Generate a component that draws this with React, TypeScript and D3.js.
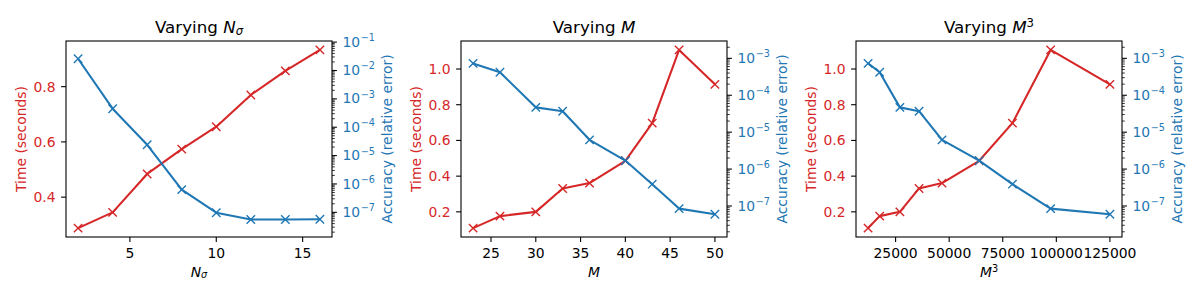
import type { ReactNode } from "react";
import * as d3 from "d3";

// Varying N_sigma
const nSigma = [2, 4, 6, 8, 10, 12, 14, 16];
const timeNSigma = [0.288, 0.345, 0.484, 0.574, 0.655, 0.77, 0.857, 0.933];
const accNSigma = [2.6e-2, 4.5e-4, 2.4e-5, 6.3e-7, 9.7e-8, 5.6e-8, 5.6e-8, 5.7e-8];

// Varying M (and M^3, same runs)
const mValues = [23, 26, 30, 33, 36, 40, 43, 46, 50];
const m3Values = [12167, 17576, 27000, 35937, 46656, 64000, 79507, 97336, 125000];
const timeM = [0.109, 0.176, 0.2, 0.331, 0.361, 0.486, 0.697, 1.107, 0.914];
const accM = [7.3e-4, 4.2e-4, 4.7e-5, 3.7e-5, 6.2e-6, 1.7e-6, 3.9e-7, 8.5e-8, 6.0e-8];

const xTicksN = [5, 10, 15];
const xTicksM = [25, 30, 35, 40, 45, 50];
const xTicksM3 = [25000, 50000, 75000, 100000, 125000];
const yTicksN = [0.4, 0.6, 0.8];
const yTicksM = [0.2, 0.4, 0.6, 0.8, 1.0];

// right-axis limits, as log10 exponents
const accLimN: [number, number] = [-7.87, -0.96];
const accLimM: [number, number] = [-7.84, -2.53];

const RED = "#d62728";
const BLUE = "#1f77b4";
const FONT = "DejaVu Sans, sans-serif";
const TOP = 41;
const BOTTOM = 237;
const WIDTH = 266;

// matplotlib's default 5% data margin
function padded(vals: number[]): [number, number] {
  const [a, b] = d3.extent(vals) as [number, number];
  const m = (b - a) * 0.05;
  return [a - m, b + m];
}

const cross = "M-4.2,-4.2L4.2,4.2M-4.2,4.2L4.2,-4.2";

function Panel({
  left,
  title,
  xlabel,
  xs,
  time,
  acc,
  xTicks,
  yTicks,
  accLim,
}: {
  left: number;
  title: ReactNode;
  xlabel: ReactNode;
  xs: number[];
  time: number[];
  acc: number[];
  xTicks: number[];
  yTicks: number[];
  accLim: [number, number];
}) {
  const right = left + WIDTH;
  const x = d3.scaleLinear().domain(padded(xs)).range([left, right]);
  const yL = d3.scaleLinear().domain(padded(time)).range([BOTTOM, TOP]);
  const yR = d3
    .scaleLog()
    .domain([10 ** accLim[0], 10 ** accLim[1]])
    .range([BOTTOM, TOP]);

  const lineL = d3
    .line<number>()
    .x((_, i) => x(xs[i]))
    .y((d) => yL(d));
  const lineR = d3
    .line<number>()
    .x((_, i) => x(xs[i]))
    .y((d) => yR(d));

  const logTicks = yR.ticks();
  const isMajor = (t: number) => Math.abs(Math.log10(t) - Math.round(Math.log10(t))) < 1e-9;

  return (
    <g fontFamily={FONT}>
      {/* title */}
      <text x={(left + right) / 2} y={32.5} textAnchor="middle" fontSize={16.7}>
        {title}
      </text>

      {/* red: time */}
      <path d={lineL(time) ?? ""} fill="none" stroke={RED} strokeWidth={2.08} strokeLinejoin="round" />
      {time.map((d, i) => (
        <path key={i} d={cross} transform={`translate(${x(xs[i])},${yL(d)})`} stroke={RED} strokeWidth={1.4} fill="none" />
      ))}

      {/* blue: accuracy on twin axis */}
      <path d={lineR(acc) ?? ""} fill="none" stroke={BLUE} strokeWidth={2.08} strokeLinejoin="round" />
      {acc.map((d, i) => (
        <path key={i} d={cross} transform={`translate(${x(xs[i])},${yR(d)})`} stroke={BLUE} strokeWidth={1.4} fill="none" />
      ))}

      {/* frame */}
      <rect x={left} y={TOP} width={WIDTH} height={BOTTOM - TOP} fill="none" stroke="#000" strokeWidth={1.1} />

      {/* x axis */}
      {xTicks.map((t) => (
        <g key={t}>
          <line x1={x(t)} x2={x(t)} y1={BOTTOM} y2={BOTTOM + 4.9} stroke="#000" strokeWidth={1.1} />
          <text x={x(t)} y={258.3} textAnchor="middle" fontSize={13.9}>
            {t}
          </text>
        </g>
      ))}
      <text x={(left + right) / 2} y={276.5} textAnchor="middle" fontSize={13.9}>
        {xlabel}
      </text>

      {/* left axis */}
      {yTicks.map((t) => (
        <g key={t}>
          <line x1={left} x2={left - 4.9} y1={yL(t)} y2={yL(t)} stroke="#000" strokeWidth={1.1} />
          <text x={left - 10.5} y={yL(t) + 5} textAnchor="end" fontSize={13.9} fill={RED}>
            {d3.format(".1f")(t)}
          </text>
        </g>
      ))}
      <text
        transform={`translate(${left - 45},${(TOP + BOTTOM) / 2}) rotate(-90)`}
        textAnchor="middle"
        dominantBaseline="central"
        fontSize={13.9}
        fill={RED}
      >
        Time (seconds)
      </text>

      {/* right axis (log) */}
      {logTicks.map((t, i) => {
        const major = isMajor(t);
        return (
          <line
            key={i}
            x1={right}
            x2={right + (major ? 4.9 : 2.8)}
            y1={yR(t)}
            y2={yR(t)}
            stroke="#000"
            strokeWidth={major ? 1.1 : 0.8}
          />
        );
      })}
      {logTicks.filter(isMajor).map((t) => {
        const e = Math.round(Math.log10(t));
        return (
          <text key={e} x={right + 10.5} y={yR(t) + 4.6} fontSize={13.9} fill={BLUE}>
            10
            <tspan dx={0.5} dy={-5.6} fontSize={9.7}>
              {e < 0 ? `\u2212${-e}` : `${e}`}
            </tspan>
          </text>
        );
      })}
      <text
        transform={`translate(${right + 54.7},${(TOP + BOTTOM) / 2}) rotate(-90)`}
        textAnchor="middle"
        dominantBaseline="central"
        fontSize={13.9}
        fill={BLUE}
      >
        Accuracy (relative error)
      </text>
    </g>
  );
}

const NSigma = (
  <>
    <tspan fontStyle="italic">N</tspan>
    <tspan fontStyle="italic" fontSize="0.7em" dy="0.2em">
      σ
    </tspan>
  </>
);

const MCube = (
  <>
    <tspan fontStyle="italic">M</tspan>
    <tspan fontSize="0.7em" dy="-0.45em">
      3
    </tspan>
  </>
);

export default function App() {
  return (
    <svg
      width={1200}
      height={300}
      viewBox="0 0 1200 300"
      style={{ position: "absolute", left: 0, top: 0, background: "#fff" }}
    >
      <Panel
        left={66}
        title={<>Varying {NSigma}</>}
        xlabel={NSigma}
        xs={nSigma}
        time={timeNSigma}
        acc={accNSigma}
        xTicks={xTicksN}
        yTicks={yTicksN}
        accLim={accLimN}
      />
      <Panel
        left={461}
        title={
          <>
            Varying <tspan fontStyle="italic">M</tspan>
          </>
        }
        xlabel={<tspan fontStyle="italic">M</tspan>}
        xs={mValues}
        time={timeM}
        acc={accM}
        xTicks={xTicksM}
        yTicks={yTicksM}
        accLim={accLimM}
      />
      <Panel
        left={856}
        title={<>Varying {MCube}</>}
        xlabel={MCube}
        xs={m3Values}
        time={timeM}
        acc={accM}
        xTicks={xTicksM3}
        yTicks={yTicksM}
        accLim={accLimM}
      />
    </svg>
  );
}
